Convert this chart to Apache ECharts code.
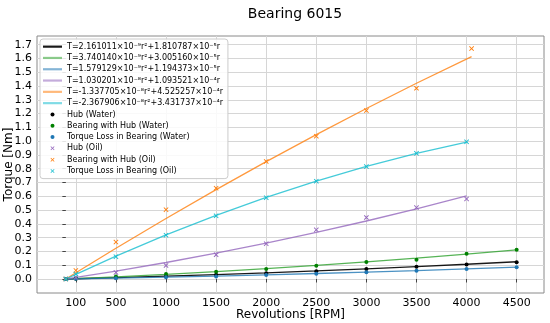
<!DOCTYPE html>
<html><head><meta charset="utf-8">
<script src="https://cdn.jsdelivr.net/npm/echarts@6/dist/echarts.min.js"></script>
<style>html,body{margin:0;padding:0;background:#fff}#c{width:550px;height:323px}</style>
</head><body><div id="c"></div>
<script>
const chartTitle = 'Bearing 6015';
const xName = 'Revolutions [RPM]';
const yName = 'Torque [Nm]';
const xTicks = [100, 500, 1000, 1500, 2000, 2500, 3000, 3500, 4000, 4500];
const yTicks = [0.0, 0.1, 0.2, 0.3, 0.4, 0.5, 0.6, 0.7, 0.8, 0.9, 1.0, 1.1, 1.2, 1.3, 1.4, 1.5, 1.6, 1.7];

// revolutions of the measurements / fitted-curve samples
const rpmWater = [0, 100, 500, 1000, 1500, 2000, 2500, 3000, 3500, 4000, 4500];
const rpmOil = [0, 100, 500, 1000, 1500, 2000, 2500, 3000, 3500, 4000];
const rpmOilBearing = [0, 100, 500, 1000, 1500, 2000, 2500, 3000, 3500, 4050];

// fitted curves (legend formulas), sampled at the rpm values above
const fitNames = [
  'T=2.161011×10⁻⁹r²+1.810787×10⁻⁵r',
  'T=3.740140×10⁻⁹r²+3.005160×10⁻⁵r',
  'T=1.579129×10⁻⁹r²+1.194373×10⁻⁵r',
  'T=1.030201×10⁻⁸r²+1.093521×10⁻⁴r',
  'T=-1.337705×10⁻⁸r²+4.525257×10⁻⁴r',
  'T=-2.367906×10⁻⁸r²+3.431737×10⁻⁴r'
];
const fitHubWater     = [0, 0.0018, 0.0096, 0.0203, 0.0320, 0.0449, 0.0588, 0.0738, 0.0899, 0.1070, 0.1253];
const fitBearingWater = [0, 0.0030, 0.0160, 0.0338, 0.0535, 0.0751, 0.0985, 0.1238, 0.1510, 0.1801, 0.2110];
const fitLossWater    = [0, 0.0012, 0.0064, 0.0135, 0.0215, 0.0302, 0.0397, 0.0500, 0.0612, 0.0730, 0.0857];
const fitHubOil       = [0, 0.0110, 0.0573, 0.1197, 0.1872, 0.2599, 0.3378, 0.4208, 0.5089, 0.6022];
const fitBearingOil   = [0, 0.0451, 0.2229, 0.4392, 0.6487, 0.8515, 1.0477, 1.2372, 1.4200, 1.6130];
const fitLossOil      = [0, 0.0341, 0.1657, 0.3195, 0.4615, 0.5916, 0.7099, 0.8164, 0.9110, 0.9938];

// measured points
const pointNames = ['Hub (Water)', 'Bearing with Hub (Water)', 'Torque Loss in Bearing (Water)',
                    'Hub (Oil)', 'Bearing with Hub (Oil)', 'Torque Loss in Bearing (Oil)'];
const hubWater     = [0, 0.002, 0.009, 0.019, 0.030, 0.042, 0.057, 0.073, 0.089, 0.106, 0.122];
const bearingWater = [0, 0.003, 0.018, 0.036, 0.053, 0.073, 0.096, 0.123, 0.140, 0.183, 0.212];
const lossWater    = [0, 0.001, 0.005, 0.013, 0.018, 0.029, 0.038, 0.049, 0.060, 0.072, 0.085];
const hubOil       = [0, 0.010, 0.047, 0.098, 0.176, 0.256, 0.357, 0.446, 0.518, 0.581];
const bearingOil   = [0, 0.062, 0.268, 0.503, 0.659, 0.853, 1.036, 1.222, 1.384, 1.672];
const lossOil      = [0, 0.036, 0.162, 0.318, 0.458, 0.590, 0.710, 0.816, 0.912, 0.995];

const lineColors = ['#000000', '#2ca02c', '#1f77b4', '#9467bd', '#ff7f0e', '#17becf'];
const pointColors = ['#000000', '#008000', '#1f77b4', '#9467bd', '#ff7f0e', '#17becf'];

const FONT = 'DejaVu Sans';
const XMARK = 'path://M0,1.3L1.3,0L5,3.7L8.7,0L10,1.3L6.3,5L10,8.7L8.7,10L5,6.3L1.3,10L0,8.7L3.7,5Z';
const LINEICON = 'path://M0,0H19V2.2H0Z';

const zip = (xs, ys) => ys.map((y, i) => [xs[i], y]);

const fitX = [rpmWater, rpmWater, rpmWater, rpmOil, rpmOilBearing, rpmOil];
const fitY = [fitHubWater, fitBearingWater, fitLossWater, fitHubOil, fitBearingOil, fitLossOil];
const ptX = [rpmWater, rpmWater, rpmWater, rpmOil, rpmOilBearing, rpmOil];
const ptY = [hubWater, bearingWater, lossWater, hubOil, bearingOil, lossOil];

const series = [];
fitNames.forEach((n, i) => {
  series.push({
    name: n, type: 'line', data: zip(fitX[i], fitY[i]), symbol: 'none', showSymbol: false,
    lineStyle: { color: lineColors[i], width: 1.3, opacity: i === 0 ? 0.9 : 0.8 },
    itemStyle: { color: lineColors[i] }, z: 2, silent: true, animation: false
  });
});
pointNames.forEach((n, i) => {
  const isOil = i >= 3;
  series.push({
    name: n, type: 'scatter', data: zip(ptX[i], ptY[i]),
    symbol: isOil ? XMARK : 'circle', symbolSize: isOil ? 5 : 4,
    itemStyle: { color: pointColors[i], opacity: 1 }, z: 3, silent: true, animation: false
  });
});

const legendData = fitNames.map((n, i) => ({ name: n, icon: LINEICON,
    itemStyle: { color: lineColors[i], opacity: i === 0 ? 0.9 : 0.55 } }))
  .concat(pointNames.map((n, i) => ({ name: n, icon: i >= 3 ? XMARK : 'circle' })));

const chart = echarts.init(document.getElementById('c'), null, { renderer: 'canvas' });
chart.setOption({
  animation: false,
  backgroundColor: '#ffffff',
  title: {
    text: chartTitle, left: 290, top: 2, textAlign: 'center',
    textStyle: { fontFamily: FONT, fontSize: 14, fontWeight: 'normal', color: '#000' }
  },
  grid: { left: 37, right: 6, top: 36, bottom: 30, show: true, borderColor: '#8a8a8a', borderWidth: 1,
          containLabel: false, outerBoundsMode: 'none' },
  legend: {
    orient: 'vertical', left: 40, top: 39, data: legendData,
    itemWidth: 19, itemHeight: 4, itemGap: 0,
    padding: [2, 5, 2, 3],
    backgroundColor: 'rgba(255,255,255,0.85)', borderColor: '#cccccc', borderWidth: 1, borderRadius: 3,
    textStyle: { fontFamily: FONT, fontSize: 8, color: '#000', lineHeight: 11.3 },
    selectedMode: false
  },
  xAxis: {
    type: 'value', min: -288, max: 4773,
    name: xName, nameLocation: 'middle', nameGap: 16, nameMoveOverlap: false,
    nameTextStyle: { fontFamily: FONT, fontSize: 12, color: '#000' },
    axisLine: { show: false },
    axisTick: { show: true, inside: false, length: 3.5, lineStyle: { color: '#444' }, customValues: xTicks },
    axisLabel: { customValues: xTicks, fontFamily: FONT, fontSize: 11, color: '#000', margin: 5,
                 formatter: v => String(v) },
    splitLine: { show: true, lineStyle: { color: '#d6d6d6', width: 1 } }
  },
  yAxis: {
    type: 'value', min: -0.1016, max: 1.763,
    name: yName, nameLocation: 'middle', nameGap: 22, nameRotate: 90, nameMoveOverlap: false,
    nameTextStyle: { fontFamily: FONT, fontSize: 12, color: '#000' },
    axisLine: { show: false },
    axisTick: { show: true, inside: false, length: 3.5, lineStyle: { color: '#444' }, customValues: yTicks },
    axisLabel: { customValues: yTicks, fontFamily: FONT, fontSize: 11, color: '#000', margin: 5,
                 formatter: v => Number(v).toFixed(1) },
    splitLine: { show: true, lineStyle: { color: '#d6d6d6', width: 1 } }
  },
  series: series
});
</script></body></html>
